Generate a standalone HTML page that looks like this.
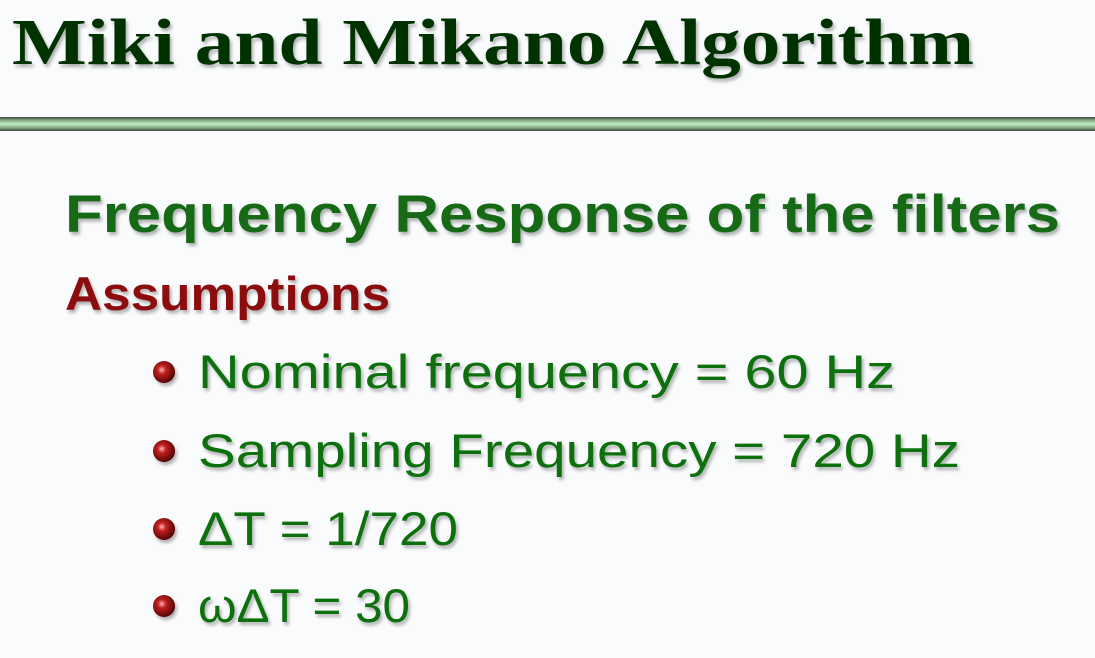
<!DOCTYPE html>
<html><head><meta charset="utf-8"><style>
html,body{margin:0;padding:0;background:#f9fbfd;}
svg{display:block}
</style></head><body>
<svg width="1095" height="658" viewBox="0 0 1095 658" xmlns="http://www.w3.org/2000/svg">
<defs>
<filter id="sh" x="-5%" y="-20%" width="110%" height="150%"><feDropShadow dx="2" dy="3" stdDeviation="1.5" flood-color="#000" flood-opacity="0.3"/></filter>
<linearGradient id="bar" x1="0" y1="0" x2="0" y2="1">
<stop offset="0" stop-color="#3c4a3c"/><stop offset="0.2" stop-color="#7a9a7a"/><stop offset="0.5" stop-color="#c4f2c4"/><stop offset="0.8" stop-color="#7a9a7a"/><stop offset="1" stop-color="#3c4a3c"/>
</linearGradient>
<radialGradient id="ball" cx="0.4" cy="0.4" r="0.65">
<stop offset="0" stop-color="#ffb0b0"/><stop offset="0.3" stop-color="#c02020"/><stop offset="1" stop-color="#4a0000"/>
</radialGradient>
</defs>
<rect width="1095" height="658" fill="#f9fbfd"/>
<text x="12" y="64" font-family="Liberation Serif, serif" font-weight="bold" font-size="66" fill="#003300" textLength="962" lengthAdjust="spacingAndGlyphs" filter="url(#sh)">Miki and Mikano Algorithm</text>
<rect x="0" y="117" width="1095" height="14" fill="url(#bar)"/>
<text x="65" y="232" font-family="Liberation Sans, sans-serif" font-weight="bold" font-size="53" fill="#176b17" textLength="995" lengthAdjust="spacingAndGlyphs" filter="url(#sh)">Frequency Response of the filters</text>
<text x="65" y="310" font-family="Liberation Sans, sans-serif" font-weight="bold" font-size="47" fill="#8b0a0a" textLength="325" lengthAdjust="spacingAndGlyphs" filter="url(#sh)">Assumptions</text>
<g font-family="Liberation Sans, sans-serif" font-size="47" fill="#0f6f0f" filter="url(#sh)">
<circle cx="164" cy="372" r="11" fill="url(#ball)"/>
<text x="198" y="388" textLength="697" lengthAdjust="spacingAndGlyphs">Nominal frequency = 60 Hz</text>
<circle cx="164" cy="451" r="11" fill="url(#ball)"/>
<text x="198" y="467" textLength="762" lengthAdjust="spacingAndGlyphs">Sampling Frequency = 720 Hz</text>
<circle cx="164" cy="529" r="11" fill="url(#ball)"/>
<text x="198" y="545" textLength="260" lengthAdjust="spacingAndGlyphs">ΔT = 1/720</text>
<circle cx="164" cy="606" r="11" fill="url(#ball)"/>
<text x="198" y="622" textLength="212" lengthAdjust="spacingAndGlyphs">ωΔT = 30</text>
</g>
</svg>
</body></html>
